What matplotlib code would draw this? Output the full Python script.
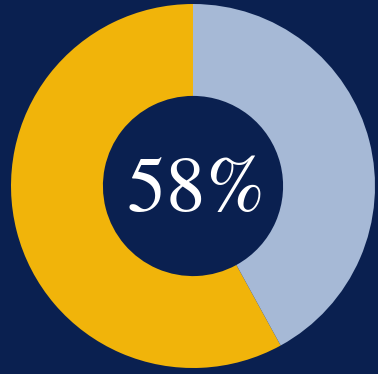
import matplotlib
matplotlib.use("Agg")
import matplotlib.pyplot as plt

labels = ["Yes", "No"]
shares = [58, 42]
colors = ["#F1B40A", "#A6B9D6"]
bg = "#0A2050"

fig = plt.figure(figsize=(3.78, 3.74), dpi=100, facecolor=bg)
ax = fig.add_axes([11 / 378, 6 / 374, 364 / 378, 364 / 374])
ax.set_facecolor(bg)

ax.pie(shares, colors=colors, startangle=90, counterclock=True,
       radius=1.0, wedgeprops=dict(width=0.505, edgecolor="none"))
ax.set_xlim(-1, 1)
ax.set_ylim(-1, 1)
ax.set_aspect("equal")
ax.axis("off")

# centre figure in a Times-like face (STIX via mathtext)
ax.text(0.005, -0.015, r"$\mathrm{%d\%%}$" % shares[0], ha="center", va="center",
        color="white", fontsize=57, math_fontfamily="stix")

fig.savefig("out.png", dpi=100, facecolor=bg)
